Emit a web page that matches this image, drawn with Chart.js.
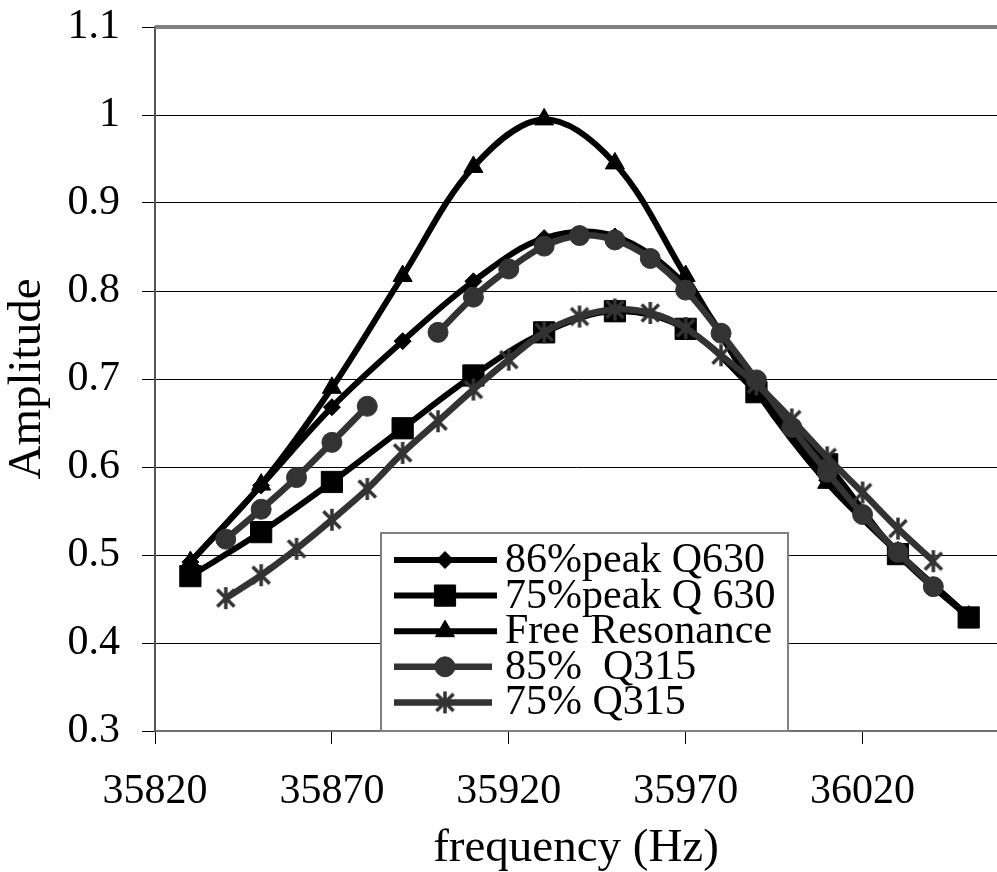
<!DOCTYPE html>
<html>
<head>
<meta charset="utf-8">
<title>Amplitude vs frequency</title>
<script src="https://cdn.jsdelivr.net/npm/chart.js@4.4.0/dist/chart.umd.min.js"></script>
<style>
  html, body { margin: 0; padding: 0; background: #fff; }
  canvas { display: block; }
</style>
</head>
<body>
<canvas id="resonanceChart" width="997" height="872"></canvas>
<script>
// Q630 sweeps and free resonance: 20 Hz steps
const freqQ630 = [35830, 35850, 35870, 35890, 35910, 35930, 35950, 35970, 35990, 36010, 36030, 36050];
const peak86Q630 = [0.492, 0.579, 0.668, 0.743, 0.811, 0.860, 0.862, 0.806, 0.690, 0.585, 0.503, 0.430];
const peak75Q630 = [0.476, 0.526, 0.583, 0.644, 0.704, 0.753, 0.777, 0.757, 0.685, 0.603, 0.501, 0.429];
const freeResonance = [0.492, 0.580, 0.690, 0.817, 0.941, 0.995, 0.945, 0.817, 0.686, 0.582, 0.503, 0.430];

// Q315 sweeps: 10 Hz steps (one missing reading at 35890 on the 85% run)
const freqQ315 = [35840, 35850, 35860, 35870, 35880, 35890, 35900, 35910, 35920, 35930, 35940,
                  35950, 35960, 35970, 35980, 35990, 36000, 36010, 36020, 36030, 36040];
const p85Q315 = [0.518, 0.552, 0.588, 0.628, 0.669, null, 0.753, 0.793, 0.825, 0.851, 0.863,
                 0.858, 0.837, 0.801, 0.752, 0.699, 0.645, 0.594, 0.546, 0.503, 0.464];
const p75Q315 = [0.451, 0.477, 0.507, 0.540, 0.575, 0.616, 0.652, 0.688, 0.722, 0.753, 0.771,
                 0.779, 0.775, 0.758, 0.727, 0.694, 0.654, 0.611, 0.571, 0.530, 0.493];

const xTicks = [35820, 35870, 35920, 35970, 36020];
const yTicks = [0.3, 0.4, 0.5, 0.6, 0.7, 0.8, 0.9, 1, 1.1];

const SERIF = '"Liberation Serif", "Times New Roman", serif';
const DARK = '#333333';

// asterisk marker: an X with a vertical bar through it
function asteriskMarker(color) {
  const size = 26, c = size / 2, r = 11, d = r * 0.78;
  const cv = document.createElement('canvas');
  cv.width = size;
  cv.height = size;
  const g = cv.getContext('2d');
  g.strokeStyle = color;
  g.lineWidth = 3.5;
  g.beginPath();
  g.moveTo(c, c - r); g.lineTo(c, c + r);
  g.moveTo(c - d, c - d); g.lineTo(c + d, c + d);
  g.moveTo(c - d, c + d); g.lineTo(c + d, c - d);
  g.stroke();
  return cv;
}

const toPoints = (xs, ys) => xs.map((x, i) => ({ x, y: ys[i] }));

function series(label, xs, ys, color, style, radius, extra) {
  return Object.assign({
    label,
    data: toPoints(xs, ys),
    borderColor: color,
    backgroundColor: color,
    pointBackgroundColor: color,
    pointBorderColor: color,
    borderWidth: 6,
    pointStyle: style,
    pointRadius: radius,
    pointBorderWidth: 1,
    tension: 0.35,
    spanGaps: false
  }, extra || {});
}

// boxed legend sitting inside the plot, over the lower middle
const boxLegend = {
  id: 'boxLegend',
  afterDraw(chart) {
    const { ctx, chartArea } = chart;
    const left = chartArea.left + 226;
    const top = chartArea.top + 506;
    const w = 407, h = 198;
    ctx.save();
    ctx.fillStyle = '#fff';
    ctx.fillRect(left, top, w, h);
    ctx.strokeStyle = '#808080';
    ctx.lineWidth = 2;
    ctx.strokeRect(left, top, w, h);

    ctx.font = '42px ' + SERIF;
    ctx.textBaseline = 'middle';
    ctx.textAlign = 'left';
    chart.data.datasets.forEach((ds, i) => {
      const y = top + 27 + i * 35.6;
      ctx.strokeStyle = ds.borderColor;
      ctx.lineWidth = ds.borderWidth;
      ctx.beginPath();
      ctx.moveTo(left + 13, y);
      ctx.lineTo(left + (ds.borderColor === DARK ? 111 : 116), y);
      ctx.stroke();

      ctx.fillStyle = ds.pointBackgroundColor;
      ctx.strokeStyle = ds.pointBorderColor;
      ctx.lineWidth = ds.pointBorderWidth;
      Chart.helpers.drawPoint(ctx, {
        pointStyle: ds.pointStyle,
        radius: ds.pointRadius,
        borderWidth: ds.pointBorderWidth,
        rotation: 0
      }, left + 64, y);

      ctx.fillStyle = '#000';
      ctx.fillText(ds.label, left + 124, y + 1);
    });
    ctx.restore();
  }
};

// thick grey frame line along the top of the plot
const topFrame = {
  id: 'topFrame',
  beforeDatasetsDraw(chart) {
    const { ctx, chartArea } = chart;
    ctx.save();
    ctx.strokeStyle = '#808080';
    ctx.lineWidth = 4;
    ctx.beginPath();
    ctx.moveTo(chartArea.left, chartArea.top);
    ctx.lineTo(chartArea.right, chartArea.top);
    ctx.stroke();
    ctx.restore();
  }
};

new Chart(document.getElementById('resonanceChart'), {
  type: 'line',
  data: {
    datasets: [
      series('86%peak Q630', freqQ630, peak86Q630, '#000', 'rectRot', 8.5, { order: 5 }),
      series('75%peak Q 630', freqQ630, peak75Q630, '#000', 'rect', 15, { order: 4 }),
      series('Free Resonance', freqQ630, freeResonance, '#000', 'triangle', 11, { order: 3 }),
      series('85%  Q315', freqQ315, p85Q315, DARK, 'circle', 10, { order: 2, borderWidth: 6.5 }),
      series('75% Q315', freqQ315, p75Q315, DARK, asteriskMarker(DARK), 11, { order: 1, borderWidth: 6.5 })
    ]
  },
  options: {
    responsive: false,
    devicePixelRatio: 1,
    animation: false,
    layout: { autoPadding: false, padding: { top: 27, right: 0, bottom: 0, left: 0 } },
    plugins: {
      legend: { display: false },
      tooltip: { enabled: false }
    },
    scales: {
      x: {
        type: 'linear',
        min: 35820,
        max: 36058,
        afterBuildTicks: (scale) => { scale.ticks = xTicks.map(v => ({ value: v })); },
        afterFit: (scale) => {
          scale.height = 141;
          scale.paddingLeft = 0;
          scale.paddingRight = 0;
        },
        grid: { drawOnChartArea: false, drawTicks: true, tickLength: 13, tickColor: '#000', lineWidth: 1 },
        border: { display: true, color: '#707070', width: 2 },
        ticks: {
          color: '#000',
          padding: 23,
          maxRotation: 0,
          font: { family: SERIF, size: 42 },
          callback: (v) => String(v)
        },
        title: {
          display: true,
          text: 'frequency (Hz)',
          color: '#000',
          font: { family: SERIF, size: 47, lineHeight: 1 },
          padding: { top: 0, bottom: 0 }
        }
      },
      y: {
        type: 'linear',
        min: 0.3,
        max: 1.1,
        afterBuildTicks: (scale) => { scale.ticks = yTicks.map(v => ({ value: v })); },
        afterFit: (scale) => {
          scale.width = 155;
          scale.paddingTop = 0;
          scale.paddingBottom = 0;
        },
        grid: {
          color: (c) => (c.tick && (c.tick.value === 1.1 || c.tick.value === 0.3)) ? 'rgba(0,0,0,0)' : '#000',
          lineWidth: 1,
          drawTicks: true,
          tickLength: 13,
          tickColor: '#000'
        },
        border: { display: true, color: '#555', width: 2 },
        ticks: {
          color: '#000',
          padding: 22,
          font: { family: SERIF, size: 42 },
          callback: (v) => String(v)
        },
        title: {
          display: true,
          text: 'Amplitude',
          color: '#000',
          font: { family: SERIF, size: 47, lineHeight: 1 },
          padding: { top: 4, bottom: 0 }
        }
      }
    }
  },
  plugins: [topFrame, boxLegend]
});
</script>
</body>
</html>
